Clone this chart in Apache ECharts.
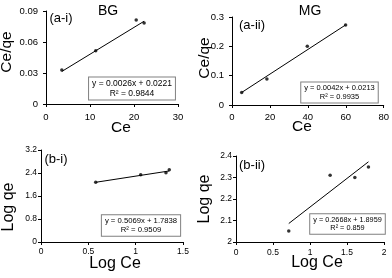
<!DOCTYPE html>
<html>
<head>
<meta charset="utf-8">
<script src="https://cdn.jsdelivr.net/npm/echarts@6/dist/echarts.min.js"></script>
<style>html,body{margin:0;padding:0;background:#fff;}#c{width:392px;height:278px;}</style>
</head>
<body>
<div id="c"></div>
<script>
// Data
const bgCe = [3.6, 11.3, 20.5, 22.3];
const bgCeQe = [0.0329, 0.0516, 0.0813, 0.0784];
const bgTrend = [[3.6, 0.0315], [22.3, 0.0801]];
const mgCe = [5.1, 18.4, 39.7, 59.9];
const mgCeQe = [0.043, 0.0886, 0.200, 0.273];
const mgTrend = [[5.1, 0.0427], [59.9, 0.2729]];
const bgLogCe = [0.578, 1.053, 1.32, 1.355];
const bgLogQe = [2.077, 2.34, 2.41, 2.515];
const bgLogTrend = [[0.578, 2.077], [1.355, 2.471]];
const mgLogCe = [0.713, 1.272, 1.606, 1.79];
const mgLogQe = [2.051, 2.31, 2.30, 2.349];
const mgLogTrend = [[0.713, 2.086], [1.79, 2.373]];
const panelTitles = ['BG', 'MG'];
const panelTags = ['(a-i)', '(a-ii)', '(b-i)', '(b-ii)'];
const equations = [
  ['y = 0.0026x + 0.0221', 'R² = 0.9844'],
  ['y = 0.0042x + 0.0213', 'R² = 0.9935'],
  ['y = 0.5069x + 1.7838', 'R² = 0.9509'],
  ['y = 0.2668x + 1.8959', 'R² = 0.859']
];
const xNames = ['Ce', 'Ce', 'Log Ce', 'Log Ce'];
const yNames = ['Ce/qe', 'Ce/qe', 'Log qe', 'Log qe'];
const xRanges = [[0, 30, 10], [0, 80, 20], [0, 1.5, 0.5], [0, 2, 0.5]];
const yRanges = [[0, 0.09, 0.03], [0, 0.3, 0.1], [0, 3.2, 0.8], [2, 2.4, 0.1]];

const FONT = 'Liberation Sans, Arial, sans-serif';
const fmt = v => String(parseFloat(v.toFixed(3)));
const zip = (a, b) => a.map((v, i) => [v, b[i]]);

const grids = [
  {left: 46, top: 11, width: 132, height: 93},
  {left: 232, top: 17, width: 152, height: 88},
  {left: 41, top: 150, width: 142, height: 92},
  {left: 236, top: 156, width: 148, height: 86}
];
function axisCommon(r, fs, margin) {
  return {
    min: r[0], max: r[1], interval: r[2],
    axisLine: {show: true, onZero: false, lineStyle: {color: '#000', width: 1}},
    axisTick: {show: true, inside: false, length: 3, lineStyle: {color: '#000'}},
    splitLine: {show: false},
    axisLabel: {fontFamily: FONT, fontSize: fs, color: '#000', formatter: fmt, margin: margin}
  };
}
const tickFs = [9.5, 9.5, 8.5, 8.5];
const xMargins = [8, 7, 5, 6];
const yMargins = [8, 8, 4, 4];
const xAxes = xRanges.map((r, i) => Object.assign({type: 'value', gridIndex: i}, axisCommon(r, tickFs[i], xMargins[i])));
const yAxes = yRanges.map((r, i) => Object.assign({type: 'value', gridIndex: i}, axisCommon(r, tickFs[i], yMargins[i])));

const pts = [zip(bgCe, bgCeQe), zip(mgCe, mgCeQe), zip(bgLogCe, bgLogQe), zip(mgLogCe, mgLogQe)];
const trends = [bgTrend, mgTrend, bgLogTrend, mgLogTrend];
const series = [];
pts.forEach((p, i) => {
  series.push({type: 'line', xAxisIndex: i, yAxisIndex: i, data: trends[i], symbol: 'none',
    lineStyle: {color: '#000', width: 1}, silent: true, animation: false});
  series.push({type: 'scatter', xAxisIndex: i, yAxisIndex: i, data: p, symbol: 'circle', symbolSize: 3.5,
    itemStyle: {color: '#000'}, animation: false});
});

function txt(x, y, s, fs, rot) {
  return {type: 'text', x: x, y: y, rotation: rot || 0,
    style: {text: s, fontFamily: FONT, fontSize: fs, fill: '#000', align: 'center', verticalAlign: 'middle'}};
}
function eqBox(cx, cy, lines, fs) {
  return {type: 'text', x: cx, y: cy, z: 10,
    style: {text: lines.join('\n'), fontFamily: FONT, fontSize: fs, fill: '#000', align: 'center', verticalAlign: 'middle',
      lineHeight: fs + 1.5, backgroundColor: '#fff', borderColor: '#808080', borderWidth: 1, padding: [1, 3, 1, 3]}};
}
const graphics = [
  txt(108, 11, panelTitles[0], 14), txt(310, 11, panelTitles[1], 14),
  txt(61, 18, panelTags[0], 13), txt(252, 25, panelTags[1], 13),
  txt(56, 159, panelTags[2], 13), txt(252, 165, panelTags[3], 13),
  txt(7, 52, yNames[0], 15.5, Math.PI / 2), txt(205, 58, yNames[1], 15.5, Math.PI / 2),
  txt(9, 207, yNames[2], 16, Math.PI / 2), txt(205, 199, yNames[3], 16, Math.PI / 2),
  txt(121, 128, xNames[0], 15.5), txt(302, 127, xNames[1], 15.5),
  txt(115, 264, xNames[2], 16), txt(317, 263, xNames[3], 16),
  eqBox(132, 88.5, equations[0], 8.5), eqBox(339.5, 92.5, equations[1], 7.5),
  eqBox(141, 225.5, equations[2], 7.7), eqBox(347.5, 224, equations[3], 7.3)
];

const chart = echarts.init(document.getElementById('c'), null, {renderer: 'canvas'});
chart.setOption({
  animation: false,
  backgroundColor: '#fff',
  grid: grids,
  xAxis: xAxes,
  yAxis: yAxes,
  series: series,
  graphic: graphics
});
</script>
</body>
</html>
